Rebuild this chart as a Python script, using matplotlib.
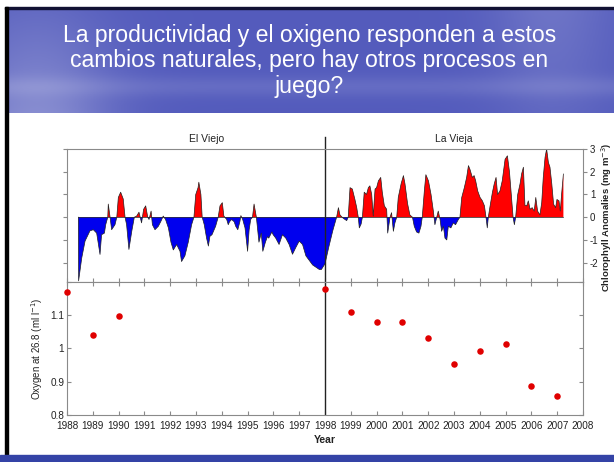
import numpy as np
import matplotlib
matplotlib.use('Agg')
import matplotlib.pyplot as plt
from matplotlib.patches import Rectangle

# chlorophyll anomalies (year, mg m-3)
chl_year = [1988.44, 1988.45, 1988.57, 1988.70, 1988.89, 1989.02, 1989.15, 1989.28, 1989.34,
            1989.45, 1989.50, 1989.58, 1989.60, 1989.67, 1989.73, 1989.86, 1989.93, 1989.99,
            1990.08, 1990.18, 1990.25, 1990.31, 1990.40, 1990.51, 1990.61, 1990.70, 1990.79,
            1990.89, 1990.97, 1991.05, 1991.13, 1991.18, 1991.26, 1991.31, 1991.41, 1991.54,
            1991.64, 1991.73, 1991.82, 1991.93, 1992.03, 1992.12, 1992.25, 1992.38, 1992.44,
            1992.57, 1992.70, 1992.83, 1992.92, 1992.99, 1993.08, 1993.11, 1993.19, 1993.24,
            1993.32, 1993.41, 1993.48, 1993.54, 1993.62, 1993.76, 1993.86, 1993.93, 1994.02,
            1994.08, 1994.19, 1994.25, 1994.30, 1994.38, 1994.48, 1994.54, 1994.62, 1994.70,
            1994.74, 1994.81, 1994.90, 1995.00, 1995.06, 1995.12, 1995.19, 1995.25, 1995.29,
            1995.34, 1995.44, 1995.53, 1995.59, 1995.69, 1995.77, 1995.82, 1995.94, 1995.99,
            1996.09, 1996.22, 1996.35, 1996.48, 1996.61, 1996.74, 1996.87, 1997.00, 1997.13,
            1997.26, 1997.39, 1997.52, 1997.65, 1997.78, 1997.86, 1998.00, 1998.15, 1998.30,
            1998.45, 1998.52, 1998.58, 1998.71, 1998.84, 1998.90, 1998.97, 1999.06, 1999.16,
            1999.23, 1999.29, 1999.33, 1999.40, 1999.45, 1999.52, 1999.61, 1999.68, 1999.74,
            1999.81, 1999.87, 1999.94, 2000.00, 2000.07, 2000.16, 2000.22, 2000.30, 2000.39,
            2000.43, 2000.52, 2000.58, 2000.65, 2000.71, 2000.78, 2000.84, 2000.95, 2001.04,
            2001.10, 2001.20, 2001.29, 2001.39, 2001.46, 2001.55, 2001.64, 2001.72, 2001.77,
            2001.85, 2001.91, 2002.01, 2002.11, 2002.20, 2002.26, 2002.33, 2002.39, 2002.46,
            2002.52, 2002.59, 2002.65, 2002.72, 2002.78, 2002.88, 2002.97, 2003.06, 2003.17,
            2003.23, 2003.30, 2003.40, 2003.49, 2003.56, 2003.62, 2003.71, 2003.78, 2003.84,
            2003.92, 2004.01, 2004.10, 2004.18, 2004.24, 2004.29, 2004.33, 2004.40, 2004.49,
            2004.56, 2004.63, 2004.69, 2004.78, 2004.87, 2004.98, 2005.07, 2005.15, 2005.21,
            2005.29, 2005.34, 2005.39, 2005.47, 2005.56, 2005.62, 2005.69, 2005.75, 2005.82,
            2005.88, 2005.95, 2006.03, 2006.11, 2006.17, 2006.24, 2006.33, 2006.40, 2006.46,
            2006.53, 2006.59, 2006.66, 2006.72, 2006.79, 2006.86, 2006.94, 2006.99, 2007.07,
            2007.12, 2007.17, 2007.24]
chl_anom = [0.0, -2.8, -1.8, -1.05, -0.6, -0.55, -0.7, -1.64, -0.77,
            -0.7, -0.33, 0.0, 0.58, 0.0, -0.55, -0.33, 0.0, 0.87,
            1.1, 0.8, 0.0, -0.33, -1.42, -0.62, 0.0, 0.05, 0.22,
            -0.25, 0.35, 0.5, 0.0, -0.1, 0.27, -0.33, -0.55, -0.4,
            -0.18, 0.05, -0.1, -0.47, -1.1, -1.44, -1.2, -1.5, -1.95,
            -1.7, -1.1, -0.33, 0.0, 1.0, 1.3, 1.54, 1.0, 0.0,
            -0.33, -0.92, -1.27, -0.84, -0.77, -0.4, 0.0, 0.5, 0.64,
            0.05, -0.1, -0.33, -0.2, -0.1, -0.2, -0.4, -0.55, -0.2,
            0.07, -0.1, -0.47, -1.5, -0.55, -0.1, 0.0, 0.58, 0.33,
            0.0, -1.1, -0.7, -1.5, -1.1, -0.85, -0.92, -0.65, -0.77,
            -0.92, -1.2, -0.77, -0.92, -1.2, -1.63, -1.33, -1.05, -1.2,
            -1.7, -1.9, -2.1, -2.2, -2.3, -2.3, -2.05, -1.3, -0.6,
            0.0, 0.42, 0.1, -0.05, -0.15, 0.0, 1.3, 1.24, 0.78,
            0.42, 0.0, -0.47, -0.3, 0.0, 1.1, 1.0, 1.3, 1.38,
            1.0, 0.05, 1.24, 1.3, 1.6, 1.75, 1.1, 0.5, 0.35,
            -0.7, 0.0, 0.2, -0.62, -0.25, 0.0, 0.87, 1.47, 1.83,
            1.47, 0.6, 0.1, 0.0, -0.4, -0.65, -0.7, -0.4, 0.0,
            1.15, 1.87, 1.6, 1.0, 0.27, -0.33, 0.0, 0.27, -0.1,
            -0.62, -0.4, -0.92, -1.0, -0.4, -0.47, -0.25, -0.33, -0.1,
            0.0, 0.87, 1.3, 1.75, 2.27, 2.1, 1.75, 1.83, 1.6,
            1.15, 0.87, 0.72, 0.5, 0.0, -0.47, 0.0, 0.5, 1.1,
            1.47, 1.75, 1.0, 1.15, 1.6, 2.55, 2.7, 2.0, 1.15,
            0.0, -0.33, 0.0, 1.0, 1.47, 1.9, 2.2, 0.52, 0.5,
            0.72, 0.35, 0.42, 0.27, 0.87, 0.27, 0.1, 0.64, 1.75,
            2.64, 3.0, 2.4, 2.2, 1.47, 0.57, 0.42, 0.78, 0.72,
            0.27, 1.0, 1.9]

# oxygen at sigma 26.8
oxy_year = [1988, 1989, 1990, 1998, 1999, 2000, 2001, 2002, 2003, 2004, 2005, 2006, 2007]
oxy_val = [1.169, 1.04, 1.097, 1.18, 1.11, 1.08, 1.079, 1.033, 0.953, 0.993, 1.015, 0.887, 0.858]

year_ticks = list(range(1988, 2009))
chl_ticks = [-2, -1, 0, 1, 2, 3]
oxy_ticks = [0.8, 0.9, 1.0, 1.1, 1.2]
oxy_labels = ['0.8', '0.9', '1', '1.1', '']

title_lines = "La productividad y el oxigeno responden a estos\ncambios naturales, pero hay otros procesos en\njuego?"

plt.rcParams['font.family'] = ['Liberation Sans', 'DejaVu Sans']
plt.rcParams['axes.unicode_minus'] = False

W, H = 614, 462
fig = plt.figure(figsize=(W / 100, H / 100), dpi=100)
fig.patch.set_facecolor('white')

def fx(px):
    return px / W

def fy(py):
    return 1 - py / H

# header band with a rough sky gradient
hdr = fig.add_axes([fx(5), fy(113), 1 - fx(5), (113 - 9) / H])
gx = np.linspace(0, 1, 200)
gy = np.linspace(0, 1, 60)
GX, GY = np.meshgrid(gx, gy)
light = (0.30 * np.exp(-((GX - 0.05) ** 2) / 0.015) * (0.3 + 0.7 * GY)
         + 0.15 * np.exp(-((GX - 0.9) ** 2) / 0.01) * (1 - 0.5 * GY)
         + 0.10 * np.exp(-((GY - 0.75) ** 2) / 0.01))
base = np.array([0.33, 0.36, 0.74])
img = base[None, None, :] + light[..., None] * (1.0 - base)[None, None, :]
hdr.imshow(np.clip(img, 0, 1), aspect='auto', extent=[0, 1, 0, 1])
hdr.set_axis_off()
hdr.text(0.5, 0.5, title_lines, ha='center', va='center', color='white', fontsize=16.6,
         linespacing=1.13, transform=hdr.transAxes)

# slide frame: top rule, left border, bottom band
fig.patches.append(Rectangle((fx(5), fy(9)), 1, 2 / H, color='#111133',
                             transform=fig.transFigure, zorder=5))
fig.patches.append(Rectangle((fx(5), fy(455)), fx(3), (455 - 7) / H, color='black',
                             transform=fig.transFigure, zorder=5))
fig.patches.append(Rectangle((0, 0), 1, 7 / H, color='#3443a6', transform=fig.transFigure, zorder=5))

grey = '#8a8a8a'
tcol = '#222222'

ax1 = fig.add_axes([fx(67), fy(282), 516 / W, 133 / H])
ax2 = fig.add_axes([fx(67), fy(415), 516 / W, 133 / H])

yr = np.array(chl_year)
an = np.array(chl_anom)
ax1.fill_between(yr, an, 0, where=an >= 0, interpolate=True, color='#ff0000', lw=0)
ax1.fill_between(yr, an, 0, where=an <= 0, interpolate=True, color='#0000ee', lw=0)
ax1.plot(yr, an, color='#222222', lw=0.5)
ax1.plot([yr[0], yr[-1]], [0, 0], color='#222222', lw=0.5)
ax1.set_xlim(1988, 2008)
ax1.set_ylim(-2.85, 3.0)
ax1.set_xticks(year_ticks)
ax1.set_xticklabels([])
ax1.set_yticks(chl_ticks)
ax1.yaxis.tick_right()
ax1.tick_params(axis='y', which='both', left=True, right=True, labelleft=False, labelright=True,
                direction='out', length=3, color=grey, labelsize=7, labelcolor=tcol, pad=2)
ax1.tick_params(axis='x', direction='in', length=3, color=grey, top=False)
ax1.set_ylabel('Chlorophyll Anomalies (mg m$^{-3}$)', fontsize=6.8, color=tcol, fontweight='bold')
ax1.yaxis.set_label_position('right')
ax1.yaxis.set_label_coords(1.031, 0.49)
ax1.axvline(1998, ymin=0, ymax=1.09, color='#222222', lw=1.0, clip_on=False)
ax1.text(0.27, 1.035, 'El Viejo', transform=ax1.transAxes, ha='center', va='bottom',
         fontsize=7.5, color=tcol)
ax1.text(0.75, 1.035, 'La Vieja', transform=ax1.transAxes, ha='center', va='bottom',
         fontsize=7.5, color=tcol)

ax2.scatter(oxy_year, oxy_val, s=22, color='#e00000', zorder=3, clip_on=False, linewidths=0)
ax2.axvline(1998, color='#222222', lw=1.0)
ax2.set_xlim(1988, 2008)
ax2.set_ylim(0.8, 1.2)
ax2.set_xticks(year_ticks)
ax2.set_xticklabels([str(y) for y in year_ticks])
ax2.set_yticks(oxy_ticks)
ax2.set_yticklabels(oxy_labels)
ax2.tick_params(axis='x', direction='in', length=3, color=grey, labelsize=7.2, labelcolor=tcol, pad=4,
                top=True)
ax2.tick_params(axis='y', direction='in', length=3, color=grey, labelsize=7.2, labelcolor=tcol, pad=2,
                right=True)
ax2.set_xlabel('Year', fontsize=7.5, color=tcol, fontweight='bold', labelpad=3)
ax2.set_ylabel('Oxygen at 26.8 (ml l$^{-1}$)', fontsize=7, color=tcol, labelpad=4)

for ax in (ax1, ax2):
    for s in ax.spines.values():
        s.set_color(grey)
        s.set_linewidth(0.8)

fig.savefig('out.png', dpi=100)
